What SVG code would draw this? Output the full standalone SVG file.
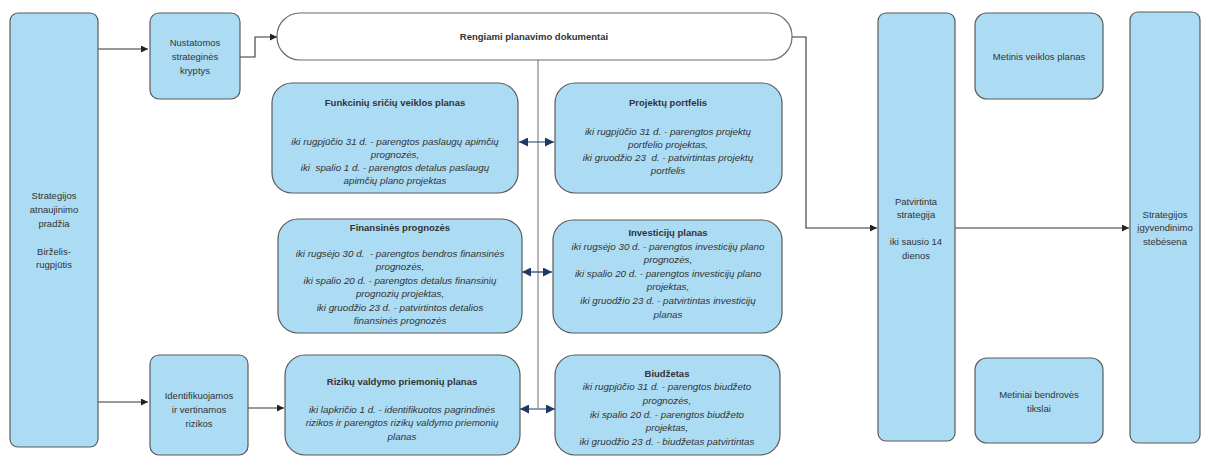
<svg xmlns="http://www.w3.org/2000/svg" width="1205" height="459" viewBox="0 0 1205 459">
<defs>
<style>
.box{fill:#acdcf4;stroke:#5a5a5a;stroke-width:1.2}
.wbox{fill:#ffffff;stroke:#6a6a6a;stroke-width:1.2}
text{font-family:"Liberation Sans",Arial,sans-serif;fill:#333;text-anchor:middle;white-space:pre}
.t{font-size:9.5px}
.b{font-size:9.5px;font-weight:bold}
.i{font-size:9.8px;font-style:italic}
.ln{fill:none;stroke:#333;stroke-width:1.1}
.gl{fill:none;stroke:#888;stroke-width:1.2}
.dl{fill:none;stroke:#1f3864;stroke-width:1.2}
</style>
<marker id="ah" viewBox="0 0 10 10" refX="10" refY="5" markerWidth="7" markerHeight="7" markerUnits="userSpaceOnUse" orient="auto"><path d="M0,0 L10,5 L0,10 z" fill="#222"/></marker>
<marker id="nh" viewBox="0 0 10 10" refX="10" refY="5" markerWidth="9" markerHeight="9" markerUnits="userSpaceOnUse" orient="auto-start-reverse"><path d="M0,0 L10,5 L0,10 z" fill="#1f3864"/></marker>
</defs>

<g id="connectors">
<path class="ln" d="M98,49 H148" marker-end="url(#ah)"/>
<path class="ln" d="M98,402 H148" marker-end="url(#ah)"/>
<path class="ln" d="M240,57 H255 V37 H277" marker-end="url(#ah)"/>
<path class="ln" d="M248,408 H284" marker-end="url(#ah)"/>
<path class="gl" d="M538,60 V408"/>
<path class="ln" d="M792,37 H806 V228 H877" marker-end="url(#ah)"/>
<path class="ln" d="M955,228 H1129" marker-end="url(#ah)"/>
<path class="dl" d="M519,142 H554" marker-start="url(#nh)" marker-end="url(#nh)"/>
<path class="dl" d="M522,272 H552" marker-start="url(#nh)" marker-end="url(#nh)"/>
<path class="dl" d="M520,409 H555" marker-start="url(#nh)" marker-end="url(#nh)"/>
</g>

<g id="n-start">
<rect class="box" x="10" y="13" width="88" height="434" rx="8"/>
<text class="t" x="54" y="199">Strategijos</text>
<text class="t" x="54" y="213">atnaujinimo</text>
<text class="t" x="54" y="227">pradžia</text>
<text class="t" x="54" y="255">Birželis-</text>
<text class="t" x="54" y="268">rugpjūtis</text>
</g>

<g id="n-kryptys">
<rect class="box" x="150" y="13" width="90" height="86" rx="9"/>
<text class="t" x="195" y="46">Nustatomos</text>
<text class="t" x="195" y="60">strateginės</text>
<text class="t" x="195" y="74">kryptys</text>
</g>

<g id="n-rizikos">
<rect class="box" x="150" y="355" width="98" height="100" rx="9"/>
<text class="t" x="199" y="399">Identifikuojamos</text>
<text class="t" x="199" y="413">ir vertinamos</text>
<text class="t" x="199" y="427">rizikos</text>
</g>

<g id="n-rengiami">
<rect class="wbox" x="277" y="13" width="515" height="47" rx="23"/>
<text class="b" x="534" y="40">Rengiami planavimo dokumentai</text>
</g>

<g id="n-funkciniu">
<rect class="box" x="272" y="83" width="246" height="110" rx="20"/>
<text class="b" x="395" y="106">Funkcinių sričių veiklos planas</text>
<text class="i" x="395" y="145">iki rugpjūčio 31 d. - parengtos paslaugų apimčių</text>
<text class="i" x="395" y="158">prognozės,</text>
<text class="i" x="395" y="171" xml:space="preserve">iki  spalio 1 d. - parengtos detalus paslaugų</text>
<text class="i" x="395" y="184">apimčių plano projektas</text>
</g>

<g id="n-projektu">
<rect class="box" x="555" y="83" width="227" height="110" rx="20"/>
<text class="b" x="668" y="106">Projektų portfelis</text>
<text class="i" x="668" y="135">iki rugpjūčio 31 d. - parengtos projektų</text>
<text class="i" x="668" y="148">portfelio projektas,</text>
<text class="i" x="668" y="161" xml:space="preserve">iki gruodžio 23  d. - patvirtintas projektų</text>
<text class="i" x="668" y="174">portfelis</text>
</g>

<g id="n-finansines">
<rect class="box" x="278" y="219" width="244" height="114" rx="20"/>
<text class="b" x="400" y="231">Finansinės prognozės</text>
<text class="i" x="400" y="257" xml:space="preserve">iki rugsėjo 30 d.  - parengtos bendros finansinės</text>
<text class="i" x="400" y="270">prognozės,</text>
<text class="i" x="400" y="284">iki spalio 20 d. - parengtos detalus finansinių</text>
<text class="i" x="400" y="297">prognozių projektas,</text>
<text class="i" x="400" y="311">iki gruodžio 23 d. - patvirtintos detalios</text>
<text class="i" x="400" y="324">finansinės prognozės</text>
</g>

<g id="n-investiciju">
<rect class="box" x="553" y="220" width="229" height="113" rx="20"/>
<text class="b" x="668" y="236">Investicijų planas</text>
<text class="i" x="668" y="250">iki rugsėjo 30 d. - parengtos investicijų plano</text>
<text class="i" x="668" y="263">prognozės,</text>
<text class="i" x="668" y="277">iki spalio 20 d. - parengtos investicijų plano</text>
<text class="i" x="668" y="290">projektas,</text>
<text class="i" x="668" y="304">iki gruodžio 23 d. - patvirtintas investicijų</text>
<text class="i" x="668" y="318">planas</text>
</g>

<g id="n-rizikuplanas">
<rect class="box" x="285" y="355" width="235" height="100" rx="20"/>
<text class="b" x="402" y="385">Rizikų valdymo priemonių planas</text>
<text class="i" x="402" y="413">iki lapkričio 1 d. - identifikuotos pagrindinės</text>
<text class="i" x="402" y="426">rizikos ir parengtos rizikų valdymo priemonių</text>
<text class="i" x="402" y="440">planas</text>
</g>

<g id="n-biudzetas">
<rect class="box" x="555" y="355" width="225" height="100" rx="20"/>
<text class="b" x="667" y="377">Biudžetas</text>
<text class="i" x="667" y="390">iki rugpjūčio 31 d. - parengtos biudžeto</text>
<text class="i" x="667" y="404">prognozės,</text>
<text class="i" x="667" y="418">iki spalio 20 d. - parengtos biudžeto</text>
<text class="i" x="667" y="431">projektas,</text>
<text class="i" x="667" y="445">iki gruodžio 23 d. - biudžetas patvirtintas</text>
</g>

<g id="n-patvirtinta">
<rect class="box" x="878" y="13" width="77" height="428" rx="8"/>
<text class="t" x="916" y="205">Patvirtinta</text>
<text class="t" x="916" y="218">strategija</text>
<text class="t" x="916" y="245">iki sausio 14</text>
<text class="t" x="916" y="259">dienos</text>
</g>

<g id="n-metinis">
<rect class="box" x="975" y="13" width="128" height="86" rx="12"/>
<text class="t" x="1039" y="60">Metinis veiklos planas</text>
</g>

<g id="n-tikslai">
<rect class="box" x="975" y="358" width="128" height="85" rx="12"/>
<text class="t" x="1039" y="398">Metiniai bendrovės</text>
<text class="t" x="1039" y="412">tikslai</text>
</g>

<g id="n-stebesena">
<rect class="box" x="1130" y="12" width="70" height="431" rx="8"/>
<text class="t" x="1165" y="218">Strategijos</text>
<text class="t" x="1165" y="231">įgyvendinimo</text>
<text class="t" x="1165" y="245">stebėsena</text>
</g>
</svg>
